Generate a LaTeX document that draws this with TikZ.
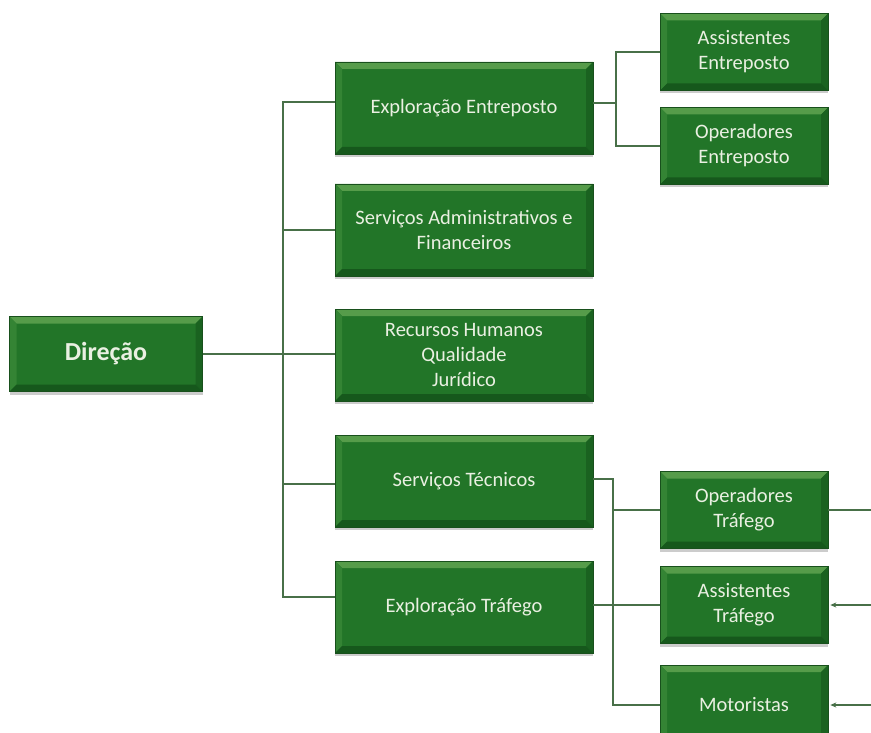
\documentclass[tikz,border=0pt]{standalone}
\usepackage{fontspec}
\setmainfont{Carlito}
\usetikzlibrary{shadows,arrows.meta,calc}
\definecolor{boxmain}{RGB}{34,117,40}
\definecolor{boxtop}{RGB}{86,156,74}
\definecolor{boxleft}{RGB}{52,132,52}
\definecolor{boxright}{RGB}{26,98,32}
\definecolor{boxbot}{RGB}{22,88,28}
\definecolor{boxedge}{RGB}{24,80,28}
\definecolor{boxtext}{RGB}{234,240,226}
\definecolor{lineclr}{RGB}{72,112,72}
\tikzset{
  gbox/.style={draw=boxedge, line width=0.6pt, fill=boxmain, text=boxtext,
    font=\fontsize{20.5}{25}\selectfont, align=center, inner sep=0pt,
    drop shadow={shadow xshift=0pt, shadow yshift=-3pt, fill=black!40, opacity=0.5},
    path picture={
      \coordinate (nw) at (path picture bounding box.north west);
      \coordinate (ne) at (path picture bounding box.north east);
      \coordinate (sw) at (path picture bounding box.south west);
      \coordinate (se) at (path picture bounding box.south east);
      \fill[boxtop] (nw) -- (ne) -- ([xshift=-7pt,yshift=-7pt]ne) -- ([xshift=7pt,yshift=-7pt]nw) -- cycle;
      \fill[boxleft] (nw) -- ([xshift=7pt,yshift=-7pt]nw) -- ([xshift=7pt,yshift=7pt]sw) -- (sw) -- cycle;
      \fill[boxright] (ne) -- ([xshift=-7pt,yshift=-7pt]ne) -- ([xshift=-7pt,yshift=7pt]se) -- (se) -- cycle;
      \fill[boxbot] (sw) -- ([xshift=7pt,yshift=7pt]sw) -- ([xshift=-7pt,yshift=7pt]se) -- (se) -- cycle;
    }},
  midbox/.style={gbox, minimum width=258pt, minimum height=92pt},
  smallbox/.style={gbox, minimum width=168pt, minimum height=77pt},
  conn/.style={draw=lineclr, line width=1.6pt},
  arr/.style={conn, -{Stealth[length=6pt,width=5pt]}}
}
\begin{document}
\begin{tikzpicture}[x=1pt,y=-1pt]
\useasboundingbox (0,0) rectangle (871,733);
% nodes
\node[gbox, minimum width=193pt, minimum height=75pt, font=\fontsize{26}{30}\selectfont\bfseries] (D) at (106,354) {Direção};
\node[midbox] (EE) at (464,108) {Exploração Entreposto};
\node[midbox] (SAF) at (464,230) {Serviços Administrativos e\\Financeiros};
\node[midbox] (RH) at (464,355) {Recursos Humanos\\Qualidade\\Jurídico};
\node[midbox] (ST) at (464,481) {Serviços Técnicos};
\node[midbox] (ET) at (464,607) {Exploração Tráfego};
\node[smallbox] (AE) at (744,52) {Assistentes\\Entreposto};
\node[smallbox] (OE) at (744,146) {Operadores\\Entreposto};
\node[smallbox] (OT) at (744,510) {Operadores\\Tráfego};
\node[smallbox] (AT) at (744,605) {Assistentes\\Tráfego};
\node[smallbox, minimum height=80pt] (MO) at (744,705) {Motoristas};
% coordinates
\coordinate (T) at (283,354);
\coordinate (R1) at (616,103);
\coordinate (R2) at (613,479);
\coordinate (E) at (875,500);
% trunk
\draw[conn] (D.east) -- (D.east -| RH.west);
\draw[conn] ([yshift=6pt]EE.west) -| (T) |- ([yshift=10pt]ET.west);
\draw[conn] (SAF.west) -- (SAF.west -| T);
\draw[conn] ([yshift=-3pt]ST.west) -- ([yshift=-3pt]ST.west -| T);
% entreposto
\draw[conn] ([yshift=5pt]EE.east) -- (R1);
\draw[conn] (AE.west) -- (AE.west -| R1) -- (OE.west -| R1) -- (OE.west);
% trafego
\draw[conn] ([yshift=2pt]ST.east) -- (R2) |- (MO.west);
\draw[conn] (OT.west -| R2) -- (OT.west);
\draw[conn] (ET.east |- AT.west) -- (AT.west);
% right edge
\draw[conn] (OT.east) -- (OT.east -| E);
\draw[arr] (AT.east -| E) -- ([xshift=2pt]AT.east);
\draw[arr] (MO.east -| E) -- ([xshift=2pt]MO.east);
\end{tikzpicture}
\end{document}
